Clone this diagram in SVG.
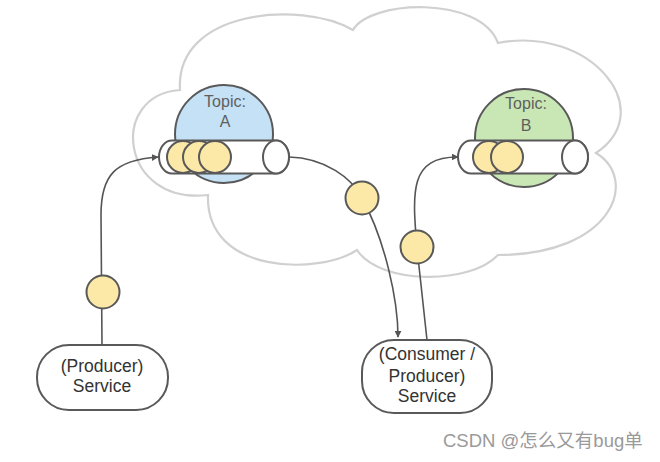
<svg xmlns="http://www.w3.org/2000/svg" width="660" height="462" viewBox="0 0 660 462">
<style>
  .cloud{fill:#fff;stroke:#d0d0d0;stroke-width:2.2}
  .shape{stroke:#595959;stroke-width:2}
  .tube{fill:#fff;stroke:#595959;stroke-width:2}
  .msg{fill:#fde9a7;stroke:#595959;stroke-width:2}
  .svc{fill:#fff;stroke:#595959;stroke-width:2}
  .conn{fill:none;stroke:#555;stroke-width:1.6}
  .lbl{font-family:"Liberation Sans",Arial,sans-serif;font-size:16px;fill:#5f5f5f;text-anchor:middle}
  .svt{font-family:"Liberation Sans",Arial,sans-serif;font-size:17.5px;fill:#333;text-anchor:middle}
  .wm{font-family:"Liberation Sans","Noto Sans CJK SC",sans-serif;font-size:18.5px;fill:#9a9a9a}
</style>
<defs>
  <marker id="arr" viewBox="0 0 10 10" refX="9" refY="5" markerWidth="7" markerHeight="7" markerUnits="userSpaceOnUse" orient="auto">
    <path d="M0,0 L10,5 L0,10 Z" fill="#555"/>
  </marker>
</defs>
<path class="cloud" d="M208,195 C120,205 108,95 180,90 C175,10 300,0 353,30 C370,0 480,-5 498,43 C590,25 660,110 596,153 C640,180 612,255 498,255 C470,285 380,285 357,250 C320,275 205,275 208,195 Z"/>

<g id="topicA">
  <circle class="shape" cx="224" cy="134" r="49" fill="#c4e1f5"/>
  <text class="lbl" x="225" y="107">Topic:</text>
  <text class="lbl" x="225" y="127">A</text>
  <path class="tube" d="M172,140.5 H276 A13,16.5 0 0 1 276,173.5 H172 A13,16.5 0 0 1 172,140.5 Z"/>
  <ellipse class="tube" cx="276" cy="157" rx="13" ry="16.5"/>
  <circle class="msg" cx="183" cy="157" r="16"/>
  <circle class="msg" cx="199" cy="157" r="16"/>
  <circle class="msg" cx="215" cy="157" r="16"/>
</g>

<g id="topicB">
  <circle class="shape" cx="524" cy="138" r="49" fill="#c9e7b4"/>
  <text class="lbl" x="526" y="109">Topic:</text>
  <text class="lbl" x="526" y="131">B</text>
  <path class="tube" d="M471,140.5 H575 A13,16.5 0 0 1 575,173.5 H471 A13,16.5 0 0 1 471,140.5 Z"/>
  <ellipse class="tube" cx="575" cy="157" rx="13" ry="16.5"/>
  <circle class="msg" cx="489" cy="157" r="16"/>
  <circle class="msg" cx="507" cy="157" r="16"/>
</g>

<g id="producer">
  <rect class="svc" x="37" y="345" width="131" height="65" rx="32" ry="32"/>
  <text class="svt" x="102" y="372">(Producer)</text>
  <text class="svt" x="102" y="392">Service</text>
</g>

<g id="consumer">
  <rect class="svc" x="362" y="340" width="130" height="73" rx="32" ry="32"/>
  <text class="svt" x="427" y="360">(Consumer /</text>
  <text class="svt" x="427" y="382">Producer)</text>
  <text class="svt" x="427" y="402">Service</text>
</g>

<g id="connectors">
  <path class="conn" d="M102,345 L101,215 C101,175 115,160 158,157" marker-end="url(#arr)"/>
  <path class="conn" d="M289,157 C325,158 352,178 362,198 C385,240 398,300 398,337" marker-end="url(#arr)"/>
  <path class="conn" d="M427,340 L417,248 C412,190 410,157 458,157" marker-end="url(#arr)"/>
</g>

<g id="msg1"><circle class="msg" cx="103" cy="292" r="16.5"/></g>
<g id="msg2"><circle class="msg" cx="362" cy="198" r="16.5"/></g>
<g id="msg3"><circle class="msg" cx="417" cy="247" r="16.5"/></g>

<text class="wm" x="443" y="447">CSDN @怎么又有bug单</text>
</svg>
